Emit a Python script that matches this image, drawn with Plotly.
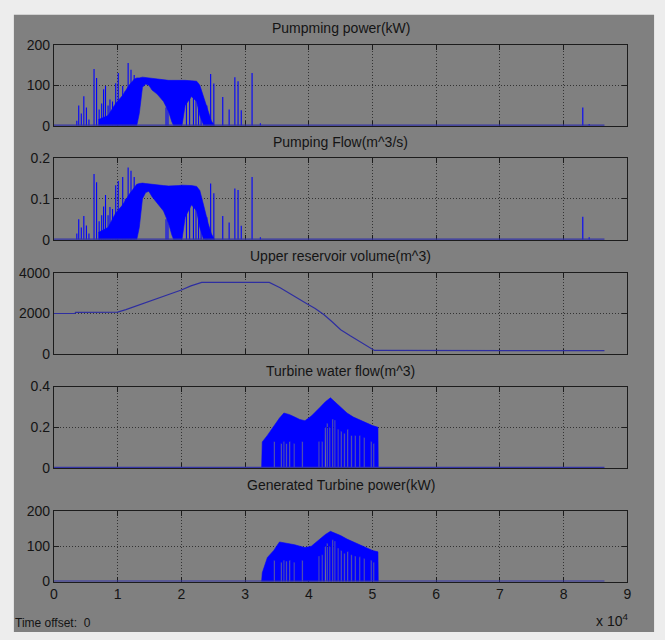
import plotly.graph_objects as go

W, H = 665, 640

# ---------------- data (time in seconds) ----------------
sim_time = [0, 86400]
idle_level = [0, 0]

# dense pumping band: upper / lower envelope of the oscillation
pump_band_t = [7000, 8500, 9700, 10800, 11800, 12600, 13000, 13400, 13900, 14400,
               14900, 15400, 16200, 17200, 18000, 18500, 18800, 19600, 20100, 20600,
               21600, 22400, 22900, 23400, 23700, 24200, 24700, 25200]
pump_band_kw_hi = [15, 25, 55, 75, 100, 115, 118, 118, 120, 119,
                   118, 116, 115, 113, 112, 112, 112, 113, 113, 112,
                   111, 110, 100, 75, 60, 35, 12, 0]
pump_band_kw_lo = [0, 0, 0, 0, 0, 0, 0, 30, 95, 103,
                   100, 88, 78, 60, 35, 10, 0, 0, 0, 50,
                   72, 60, 25, 5, 0, 0, 0, 0]
flow_band_hi = [0.018, 0.03, 0.065, 0.085, 0.11, 0.128, 0.135, 0.137, 0.138, 0.137,
                0.136, 0.134, 0.133, 0.132, 0.131, 0.131, 0.131, 0.132, 0.133, 0.133,
                0.132, 0.13, 0.12, 0.09, 0.07, 0.04, 0.015, 0]
flow_band_lo = [0, 0, 0, 0, 0, 0, 0, 0.03, 0.1, 0.115,
                0.118, 0.105, 0.09, 0.07, 0.04, 0.012, 0, 0, 0, 0.055,
                0.085, 0.07, 0.03, 0.005, 0, 0, 0, 0]

# isolated pumping spikes
pump_spike_t = [3600, 3900, 4300, 4700, 5100, 5500, 6300, 6700, 7100, 7500, 7800, 8100,
                8500, 8800, 9200, 9700, 10100, 10800, 11200, 11650, 12100, 12600,
                17600, 17900, 20800, 21300, 21900, 22300, 22700, 23100, 23500, 24000,
                24600, 25100, 26500, 27500, 28400, 28900, 29400, 31100, 32400, 83000, 84000]
pump_spike_kw = [12, 50, 30, 73, 45, 15, 140, 118, 40, 55, 90, 98,
                 50, 65, 60, 105, 130, 98, 85, 155, 138, 125,
                 45, 55, 90, 80, 85, 95, 88, 75, 60, 50,
                 128, 104, 71, 40, 120, 110, 38, 130, 6, 45, 4]
pump_spike_flow = [0.015, 0.05, 0.03, 0.058, 0.035, 0.015, 0.16, 0.14, 0.045, 0.06, 0.081, 0.109,
                   0.06, 0.08, 0.075, 0.133, 0.143, 0.153, 0.1, 0.176, 0.168, 0.153,
                   0.05, 0.065, 0.1, 0.09, 0.095, 0.11, 0.1, 0.085, 0.07, 0.055,
                   0.137, 0.113, 0.058, 0.042, 0.125, 0.121, 0.034, 0.153, 0.006, 0.056, 0.006]

# upper reservoir volume (m^3)
res_t = [0, 3300, 3400, 10000, 11300, 12500, 14000, 15500, 17300, 19000, 20000, 21500,
         23200, 33800, 35500, 37100, 39700, 41000, 42400, 43700, 45000, 46500, 47700,
         49000, 50300, 86400]
res_vol = [2000, 2000, 2060, 2070, 2190, 2330, 2480, 2660, 2880, 3050, 3160, 3360,
           3530, 3530, 3270, 2960, 2480, 2250, 1940, 1580, 1200, 900, 680,
           430, 180, 170]

# turbine operation: upper envelope and drop-outs to zero
turb_t = [32600, 32700, 33500, 34500, 35400, 36100, 37000, 37800, 38600, 39400, 40400,
          41700, 42600, 43400, 44400, 45000, 46000, 47000, 48000, 49000, 50000, 50850, 50900]
turb_flow_hi = [0, 0.128, 0.16, 0.205, 0.245, 0.27, 0.262, 0.25, 0.238, 0.232, 0.255,
                0.296, 0.325, 0.345, 0.315, 0.296, 0.27, 0.25, 0.235, 0.22, 0.208, 0.2, 0]
turb_kw_hi = [0, 25, 68, 88, 112, 110, 106, 104, 100, 96, 100,
              120, 133, 142, 135, 130, 120, 112, 104, 96, 88, 84, 0]
turb_gap_t = [34600, 35700, 36100, 36500, 37000, 37700, 39000, 41600, 42100, 42600, 42900, 43300,
              43750, 44100, 44600, 45100, 45600, 46100, 46700, 47300, 48000, 48700, 49800, 50200]
turb_gap_flow = [0.13, 0.12, 0.13, 0.12, 0.13, 0.12, 0.13, 0.13, 0.13, 0.2, 0.22, 0.2,
                 0.24, 0.236, 0.19, 0.18, 0.17, 0.19, 0.16, 0.16, 0.16, 0.15, 0.13, 0.12]
turb_gap_kw = [60, 55, 60, 58, 60, 55, 60, 72, 76, 100, 108, 100,
               118, 115, 95, 88, 80, 85, 76, 72, 70, 65, 60, 55]

titles = ["Pumpming power(kW)", "Pumping Flow(m^3/s)", "Upper reservoir volume(m^3)",
          "Turbine water flow(m^3)", "Generated Turbine power(kW)"]
y_ranges = [200, 0.2, 4000, 0.4, 200]
y_ticktext = [["0", "100", "200"], ["0", "0.1", "0.2"], ["0", "2000", "4000"],
              ["0", "0.2", "0.4"], ["0", "100", "200"]]
x_ticktext = ["0", "1", "2", "3", "4", "5", "6", "7", "8", "9"]

# ---------------- helpers ----------------
BLUE = "#0000ff"
BASE = "#3434a6"
FRAME = "#1c1c1c"
TXT = "#141414"
FONT = "Arial, Liberation Sans, sans-serif"


def band_polygon(t, hi, lo):
    return list(t) + list(reversed(t)), list(hi) + list(reversed(lo))


def notched_polygon(t, hi, gap_t, gap_h, half_w=100):
    xs, ys = list(t), list(hi)
    for gt, gh in sorted(zip(gap_t, gap_h), reverse=True):
        xs += [gt + half_w, gt + half_w, gt - half_w, gt - half_w]
        ys += [0, gh, gh, 0]
    xs.append(t[0])
    ys.append(0)
    return xs, ys


def spike_lines(t, h):
    xs, ys = [], []
    for a, b in zip(t, h):
        xs += [a, a, None]
        ys += [0, b, None]
    return xs, ys


fig = go.Figure()


def ax(i):
    return ("x", "y") if i == 0 else (f"x{i+1}", f"y{i+1}")


def add_band(i, xs, ys):
    xa, ya = ax(i)
    fig.add_trace(go.Scatter(x=xs, y=ys, mode="lines", fill="toself", fillcolor=BLUE,
                             line=dict(color=BLUE, width=0.6), xaxis=xa, yaxis=ya,
                             hoverinfo="skip", showlegend=False))


def add_spikes(i, t, h):
    xa, ya = ax(i)
    xs, ys = spike_lines(t, h)
    fig.add_trace(go.Scatter(x=xs, y=ys, mode="lines", line=dict(color=BLUE, width=1.1),
                             xaxis=xa, yaxis=ya, hoverinfo="skip", showlegend=False))


def add_idle(i):
    xa, ya = ax(i)
    fig.add_trace(go.Scatter(x=sim_time, y=idle_level, mode="lines",
                             line=dict(color=BASE, width=2.4), xaxis=xa, yaxis=ya,
                             hoverinfo="skip", showlegend=False))


# panel 1: pumping power
add_band(0, *band_polygon(pump_band_t, pump_band_kw_hi, pump_band_kw_lo))
add_spikes(0, pump_spike_t, pump_spike_kw)
add_idle(0)

# panel 2: pumping flow
add_band(1, *band_polygon(pump_band_t, flow_band_hi, flow_band_lo))
add_spikes(1, pump_spike_t, pump_spike_flow)
add_idle(1)

# panel 3: reservoir volume
fig.add_trace(go.Scatter(x=res_t, y=res_vol, mode="lines", line=dict(color="#2e2ea0", width=1.2),
                         xaxis="x3", yaxis="y3", hoverinfo="skip", showlegend=False))

# panel 4: turbine flow
add_band(3, *notched_polygon(turb_t, turb_flow_hi, turb_gap_t, turb_gap_flow))
add_idle(3)

# panel 5: turbine power
add_band(4, *notched_polygon(turb_t, turb_kw_hi, turb_gap_t, turb_gap_kw))
add_idle(4)

# ---------------- layout ----------------
X_LEFT, X_RIGHT = 50.5, 631
panel_tops = [37.7, 153.5, 271.7, 388.3, 515.7]
panel_bottoms = [120.7, 237.7, 355, 471.7, 588.3]
title_rows = [20, 137, 254, 372, 489]

layout = dict(
    width=W, height=H, margin=dict(l=0, r=0, t=0, b=0),
    paper_bgcolor="#ededed", plot_bgcolor="white",
    showlegend=False, font=dict(family=FONT, color=TXT, size=14),
    shapes=[dict(type="rect", xref="paper", yref="paper", layer="below",
                 x0=10 / W, x1=658 / W, y0=0, y1=1 - 7 / H,
                 fillcolor="#808080", line=dict(width=0))],
    annotations=[],
)

for i in range(5):
    top = panel_tops[i]
    bot = panel_bottoms[i]
    xkey = "xaxis" if i == 0 else f"xaxis{i+1}"
    ykey = "yaxis" if i == 0 else f"yaxis{i+1}"
    xa, ya = ax(i)
    common = dict(showline=True, mirror="ticks", linecolor=FRAME, linewidth=1,
                  ticks="inside", ticklen=5, tickcolor=FRAME, tickwidth=1,
                  showgrid=True, gridcolor="#333333", griddash="1px,2px", gridwidth=1,
                  zeroline=False, layer="below traces", fixedrange=True)
    layout[xkey] = dict(common, domain=[X_LEFT / W, X_RIGHT / W], anchor=ya,
                        range=[0, 90000], tickmode="array",
                        tickvals=[k * 10000 for k in range(10)], ticktext=x_ticktext,
                        showticklabels=(i == 4), tickfont=dict(size=14, color=TXT))
    r = y_ranges[i]
    layout[ykey] = dict(common, domain=[1 - bot / H, 1 - top / H], anchor=xa,
                        range=[0, r], tickmode="array", tickvals=[0, r / 2, r],
                        ticktext=y_ticktext[i], tickfont=dict(size=14, color=TXT))
    layout["annotations"].append(dict(
        text=titles[i], xref="paper", yref="paper",
        x=(X_LEFT + X_RIGHT) / 2 / W, y=1 - title_rows[i] / H,
        xanchor="center", yanchor="middle", showarrow=False,
        font=dict(size=14, color=TXT)))

layout["annotations"].append(dict(
    text="Time offset:  0", xref="paper", yref="paper", x=9 / W, y=1 - 631 / H,
    xanchor="left", yanchor="middle", showarrow=False, font=dict(size=12, color=TXT)))
layout["annotations"].append(dict(
    text="x 10<sup>4</sup>", xref="paper", yref="paper", x=634 / W, y=1 - 628 / H,
    xanchor="right", yanchor="middle", showarrow=False, font=dict(size=14, color=TXT)))

fig.update_layout(layout)
fig.write_html("out.html")
